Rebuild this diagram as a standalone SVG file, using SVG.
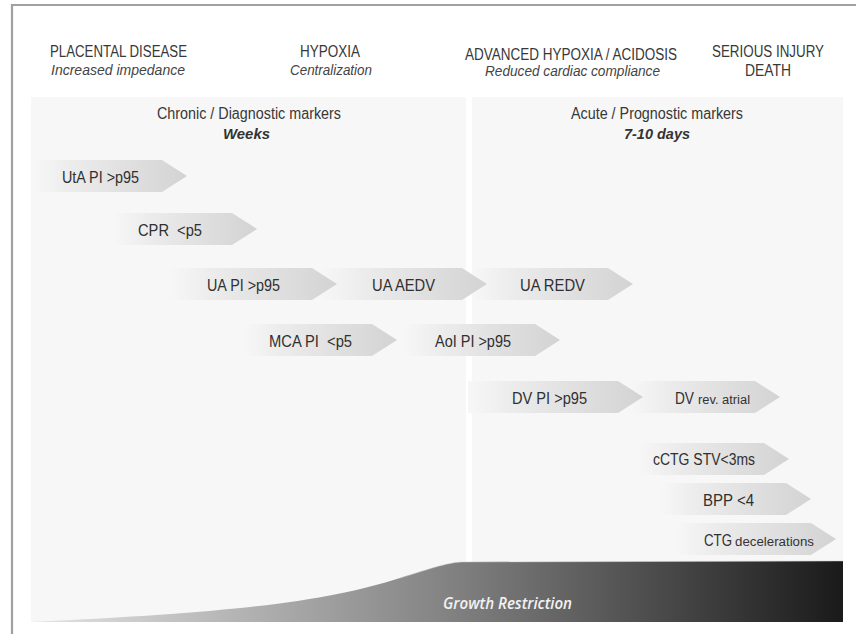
<svg xmlns="http://www.w3.org/2000/svg" width="856" height="634" viewBox="0 0 856 634">
  <defs>
    <!-- marker arrow fill: fades in from the panel colour towards the head -->
    <linearGradient id="markerFill" x1="0" y1="0" x2="1" y2="0">
      <stop offset="0" stop-color="#f7f7f7"/>
      <stop offset="0.25" stop-color="#ececec"/>
      <stop offset="1" stop-color="#d3d3d3"/>
    </linearGradient>
    <!-- growth restriction band: light grey to near black -->
    <linearGradient id="growthFill" gradientUnits="userSpaceOnUse" x1="31" y1="0" x2="843" y2="0">
      <stop offset="0" stop-color="#e4e4e4"/>
      <stop offset="0.5" stop-color="#858585"/>
      <stop offset="1" stop-color="#1a1a1a"/>
    </linearGradient>
    <style>
      .hd { font-family: "Liberation Sans", Arial, sans-serif; font-size: 16px; fill: #383838; }
      .sub { font-family: "Liberation Sans", Arial, sans-serif; font-size: 15.5px; font-style: italic; fill: #444; }
      .sec { font-family: "Liberation Sans", Arial, sans-serif; font-size: 16px; fill: #383838; }
      .secb { font-family: "Liberation Sans", Arial, sans-serif; font-size: 15.5px; font-style: italic; font-weight: bold; fill: #333; }
      .mk { font-family: "Liberation Sans", Arial, sans-serif; font-size: 16px; fill: #303030; white-space: pre; }
      .mks { font-family: "Liberation Sans", Arial, sans-serif; font-size: 12.5px; fill: #333; }
      .arrow { fill: url(#markerFill); }
      .panel { fill: #f7f7f7; }
      .gr { font-family: "Open Sans", "Liberation Sans", sans-serif; font-size: 16.5px; font-style: italic; font-weight: 600; fill: #f2f2f2; }
    </style>
  </defs>

  <rect x="0" y="0" width="856" height="634" fill="#ffffff"/>

  <!-- outer frame (open to the right and bottom) -->
  <path d="M12,634 L12,5 L856,5" fill="none" stroke="#a0a0a0" stroke-width="2.2"/>

  <!-- header stages -->
  <g id="stage-placental">
    <text class="hd" x="50" y="57" textLength="137" lengthAdjust="spacingAndGlyphs">PLACENTAL DISEASE</text>
    <text class="sub" x="51" y="75" textLength="134" lengthAdjust="spacingAndGlyphs">Increased impedance</text>
  </g>
  <g id="stage-hypoxia">
    <text class="hd" x="300" y="57" textLength="60" lengthAdjust="spacingAndGlyphs">HYPOXIA</text>
    <text class="sub" x="290" y="75" textLength="82" lengthAdjust="spacingAndGlyphs">Centralization</text>
  </g>
  <g id="stage-advanced">
    <text class="hd" x="465" y="60" textLength="212" lengthAdjust="spacingAndGlyphs">ADVANCED HYPOXIA / ACIDOSIS</text>
    <text class="sub" x="485" y="76" textLength="175" lengthAdjust="spacingAndGlyphs">Reduced cardiac compliance</text>
  </g>
  <g id="stage-injury">
    <text class="hd" x="712" y="57" textLength="112" lengthAdjust="spacingAndGlyphs">SERIOUS INJURY</text>
    <text class="hd" x="745" y="76" textLength="46" lengthAdjust="spacingAndGlyphs">DEATH</text>
  </g>

  <!-- background panels -->
  <g id="panel-chronic">
    <rect class="panel" x="31" y="97" width="435" height="525"/>
    <text class="sec" x="157" y="119" textLength="184" lengthAdjust="spacingAndGlyphs">Chronic / Diagnostic markers</text>
    <text class="secb" x="223" y="139" textLength="47" lengthAdjust="spacingAndGlyphs">Weeks</text>
  </g>
  <g id="panel-acute">
    <rect class="panel" x="472" y="97" width="371" height="525"/>
    <text class="sec" x="571" y="119" textLength="172" lengthAdjust="spacingAndGlyphs">Acute / Prognostic markers</text>
    <text class="secb" x="624" y="139" textLength="66" lengthAdjust="spacingAndGlyphs">7-10 days</text>
  </g>

  <!-- markers (later stage drawn first so the earlier head sits on top) -->
  <g id="m-uta">
    <polygon class="arrow" points="33,160 162,160 187,176 162,192 33,192"/>
    <text class="mk" x="62" y="183" textLength="77" lengthAdjust="spacingAndGlyphs">UtA PI &gt;p95</text>
  </g>
  <g id="m-cpr">
    <polygon class="arrow" points="113,213 232,213 257,229 232,245 113,245"/>
    <text class="mk" x="138" y="236" textLength="64" lengthAdjust="spacingAndGlyphs">CPR  &lt;p5</text>
  </g>
  <g id="m-ua-redv">
    <polygon class="arrow" points="472,268 608,268 633,284 608,300 472,300"/>
    <text class="mk" x="520" y="291" textLength="65" lengthAdjust="spacingAndGlyphs">UA REDV</text>
  </g>
  <g id="m-ua-aedv">
    <polygon class="arrow" points="322,268 462,268 487,284 462,300 322,300"/>
    <text class="mk" x="372" y="291" textLength="63" lengthAdjust="spacingAndGlyphs">UA AEDV</text>
  </g>
  <g id="m-ua-pi">
    <polygon class="arrow" points="170,268 312,268 337,284 312,300 170,300"/>
    <text class="mk" x="207" y="291" textLength="73" lengthAdjust="spacingAndGlyphs">UA PI &gt;p95</text>
  </g>
  <g id="m-aoi">
    <polygon class="arrow" points="403,324 535,324 560,340 535,356 403,356"/>
    <text class="mk" x="435" y="347" textLength="76" lengthAdjust="spacingAndGlyphs">AoI PI &gt;p95</text>
  </g>
  <g id="m-mca">
    <polygon class="arrow" points="243,324 372,324 397,340 372,356 243,356"/>
    <text class="mk" x="269" y="347" textLength="83" lengthAdjust="spacingAndGlyphs">MCA PI  &lt;p5</text>
  </g>
  <g id="m-dv-rev">
    <polygon class="arrow" points="630,381 755,381 780,397 755,413 630,413"/>
    <text class="mk" x="675" y="404" textLength="19" lengthAdjust="spacingAndGlyphs">DV</text>
    <text class="mks" x="698" y="404" textLength="52" lengthAdjust="spacingAndGlyphs">rev. atrial</text>
  </g>
  <g id="m-dv-pi">
    <polygon class="arrow" points="468,381 618,381 643,397 618,413 468,413"/>
    <text class="mk" x="512" y="404" textLength="75" lengthAdjust="spacingAndGlyphs">DV PI &gt;p95</text>
  </g>
  <g id="m-cctg">
    <polygon class="arrow" points="638,443 764,443 789,459 764,475 638,475"/>
    <text class="mk" x="653" y="465" textLength="102" lengthAdjust="spacingAndGlyphs">cCTG STV&lt;3ms</text>
  </g>
  <g id="m-bpp">
    <polygon class="arrow" points="660,483 786,483 811,499 786,515 660,515"/>
    <text class="mk" x="703" y="506" textLength="51" lengthAdjust="spacingAndGlyphs">BPP &lt;4</text>
  </g>
  <g id="m-ctg">
    <polygon class="arrow" points="675,523 811,523 836,539 811,555 675,555"/>
    <text class="mk" x="704" y="546" textLength="28" lengthAdjust="spacingAndGlyphs">CTG</text>
    <text class="mks" x="735" y="546" textLength="79" lengthAdjust="spacingAndGlyphs">decelerations</text>
  </g>

  <!-- growth restriction band -->
  <g id="growth-restriction">
    <path d="M31,622 C250,612 330,600 400,578 C430,569 445,563 462,562 L843,561 L843,622 Z" fill="url(#growthFill)"/>
    <path d="M400,578 C430,569 445,563 462,562 L843,561" fill="none" stroke="#c8c8c8" stroke-width="0.8" stroke-opacity="0.6"/>
    <text class="gr" x="443" y="609" textLength="129" lengthAdjust="spacingAndGlyphs">Growth Restriction</text>
  </g>
</svg>
